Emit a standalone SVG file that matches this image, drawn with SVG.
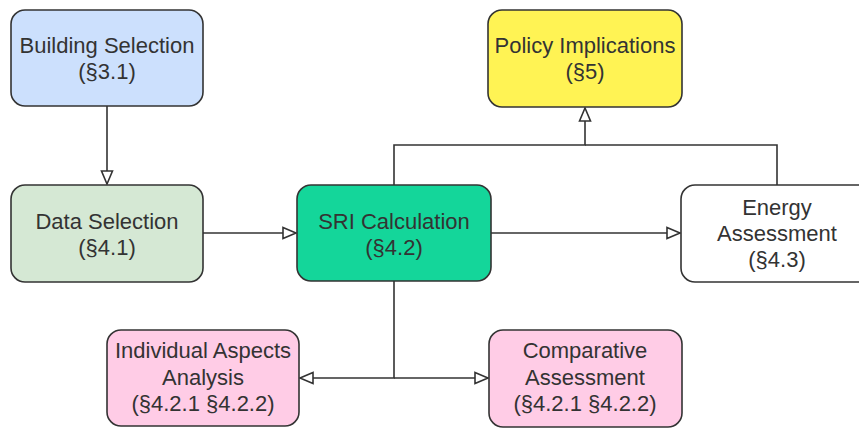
<svg xmlns="http://www.w3.org/2000/svg" width="859" height="429" viewBox="0 0 859 429">
<style>
.box{stroke:#333;stroke-width:1.6}
.t{font-family:"Liberation Sans",Arial,sans-serif;font-size:22px;fill:#333;text-anchor:middle}
.c{fill:none;stroke:#333;stroke-width:1.6}
</style>
<defs>
<marker id="arr" markerUnits="userSpaceOnUse" markerWidth="16" markerHeight="12" refX="13" refY="6" orient="auto" overflow="visible">
<path d="M0,0.5 L13,6 L0,11.5 Z" fill="#fff" stroke="#333" stroke-width="1.6"/>
</marker>
</defs>
<rect width="859" height="429" fill="#fff"/>
<g id="connectors">
<path class="c" d="M107,106 V184" marker-end="url(#arr)"/>
<path class="c" d="M203,233 H296" marker-end="url(#arr)"/>
<path class="c" d="M491,233 H680" marker-end="url(#arr)"/>
<path class="c" d="M394,185 V145 H585 V108" marker-end="url(#arr)"/>
<path class="c" d="M777,185 V145 H585"/>
<path class="c" d="M394,281 V378 H300" marker-end="url(#arr)"/>
<path class="c" d="M394,378 H488" marker-end="url(#arr)"/>
</g>
<g id="building-selection">
<rect class="box" x="11" y="10" width="192" height="96" rx="14" fill="#cce0fd"/>
<text class="t" x="107" y="53">Building Selection</text>
<text class="t" x="107" y="79">(§3.1)</text>
</g>
<g id="data-selection">
<rect class="box" x="11" y="185" width="192" height="97" rx="14" fill="#d5e8d4"/>
<text class="t" x="107" y="229">Data Selection</text>
<text class="t" x="107" y="255">(§4.1)</text>
</g>
<g id="sri-calculation">
<rect class="box" x="297" y="185" width="194" height="96" rx="14" fill="#14d69a"/>
<text class="t" x="394" y="229">SRI Calculation</text>
<text class="t" x="394" y="255">(§4.2)</text>
</g>
<g id="policy-implications">
<rect class="box" x="488" y="10" width="194" height="97" rx="14" fill="#fff354"/>
<text class="t" x="585" y="53">Policy Implications</text>
<text class="t" x="585" y="79">(§5)</text>
</g>
<g id="energy-assessment">
<rect class="box" x="681" y="185" width="192" height="97" rx="14" fill="#fff"/>
<text class="t" x="777" y="215">Energy</text>
<text class="t" x="777" y="241">Assessment</text>
<text class="t" x="777" y="267">(§4.3)</text>
</g>
<g id="individual-aspects">
<rect class="box" x="107" y="330" width="192" height="96" rx="14" fill="#ffcce6"/>
<text class="t" x="203" y="358">Individual Aspects</text>
<text class="t" x="203" y="385">Analysis</text>
<text class="t" x="203" y="411">(§4.2.1 §4.2.2)</text>
</g>
<g id="comparative-assessment">
<rect class="box" x="489" y="330" width="193" height="97" rx="14" fill="#ffcce6"/>
<text class="t" x="585" y="358">Comparative</text>
<text class="t" x="585" y="385">Assessment</text>
<text class="t" x="585" y="411">(§4.2.1 §4.2.2)</text>
</g>
</svg>
